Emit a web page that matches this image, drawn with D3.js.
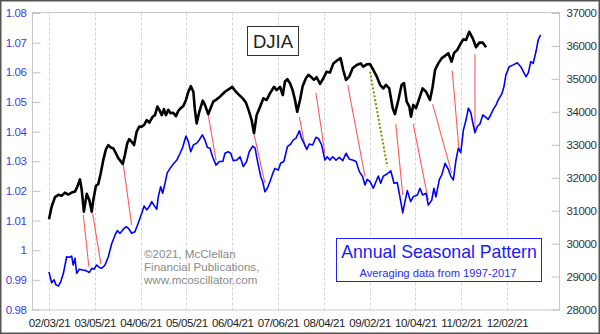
<!DOCTYPE html>
<html><head><meta charset="utf-8">
<script src="https://cdn.jsdelivr.net/npm/d3@7"></script>
<style>body{margin:0;background:#fff}svg{display:block;font-family:"Liberation Sans",Arial,sans-serif}</style>
</head><body><svg id="c" width="600" height="334"></svg>
<script>
// ---------- data ----------
const dateLabels = ["02/03/21","03/05/21","04/06/21","05/05/21","06/04/21","07/06/21","08/04/21","09/02/21","10/04/21","11/02/21","12/02/21"];
const dateTicks = [0,21,42,63,84,105,126,147,168,189,210]; // trading-day index
const leftTicks = [0.98,0.99,1,1.01,1.02,1.03,1.04,1.05,1.06,1.07,1.08];
const leftLabels = ["0.98","0.99","1","1.01","1.02","1.03","1.04","1.05","1.06","1.07","1.08"];
const rightTicks = [28000,29000,30000,31000,32000,33000,34000,35000,36000,37000];

// DJIA 2021 (right axis)
const djiaDays = [
 0,1.2,2.75,4.3,5.8,7.3,8.8,10.4,11.9,13.0,
 14.2,15.0,16.0,17.3,18.5,19.6,20.3,21.5,22.6,23.7,
 24.9,26.1,27.2,28.3,29.5,30.7,31.8,33.8,34.8,35.9,
 36.8,37.9,39.0,40.2,41.4,42.5,43.6,44.8,46.0,47.5,
 48.6,49.7,50.6,51.7,52.7,53.6,54.7,55.8,57.0,58.2,
 59.3,60.4,61.6,62.8,63.9,65.0,66.2,66.9,67.7,68.9,
 70.5,71.5,73.0,74.1,75.3,76.9,78.4,80.7,83.0,84.0,
 85.3,86.8,88.8,90.3,91.8,92.9,94.0,95.2,96.7,98.3,
 99.8,101.3,103.2,104.4,105.9,107.2,108.2,109.3,110.5,111.7,
 112.8,113.8,115.1,116.3,117.8,118.9,120.0,121.5,122.7,124.3,
 125.8,127.3,128.8,130.4,131.9,133.7,134.9,136.2,137.7,139.2,
 141.1,142.9,144.1,145.7,147.2,148.7,150.3,151.8,153.3,154.5,
 156.0,157.6,158.6,160.2,161.7,162.8,164.0,165.2,166.0,167.0,
 168.3,169.8,171.3,172.9,174.7,175.9,177.0,178.5,180.1,181.6,
 183.1,184.6,185.7,187.2,188.8,190.0,191.2,192.7,194.3,195.8,
 197.3,198.9,200.4];
const djiaVals = [
 30740,31120,31410,31480,31450,31550,31490,31550,31580,31730,
 31950,31630,30970,31510,31320,30970,31320,31750,31810,32130,
 32540,32860,32990,32920,32890,32740,32590,32420,32690,33050,
 33170,33090,32990,33400,33550,33550,33600,33750,33670,33850,
 33900,34160,34060,33900,34080,33900,34060,33960,33970,33870,
 34030,34110,34180,34360,34610,34780,34610,34060,33650,34000,
 34340,34210,33930,34110,34310,34380,34460,34610,34710,34760,
 34640,34540,34410,34280,34000,33750,33350,33900,34140,34410,
 34360,34560,34760,34660,34760,34510,34920,34990,34870,34660,
 34360,34000,34360,34780,35020,35120,35070,34970,35050,34850,
 35020,35220,35190,35470,35550,35630,35270,34970,35070,35320,
 35420,35470,35370,35440,35450,35270,35070,34820,34710,34820,
 34710,34110,33930,34360,34820,34870,34310,34160,33850,34210,
 34110,34410,34710,34610,34360,34760,35270,35470,35630,35700,
 35780,35520,35780,35880,36080,36200,36180,36430,36230,35960,
 36100,36100,35960];

// Annual seasonal pattern (left axis)
const seasDays = [
 0,1.2,2.3,3.2,4.3,5.4,6.6,8.1,9.3,10.4,
 11.1,11.9,12.7,13.9,15.5,17.0,18.5,19.6,20.6,21.9,
 23.1,24.2,25.7,27.2,28.7,30.3,31.3,32.6,34.1,35.3,
 36.4,37.9,39.4,40.9,42.5,43.6,44.8,46.0,47.1,48.1,
 49.4,50.1,51.2,52.1,53.2,54.2,55.5,57.0,58.6,60.1,
 61.3,62.8,63.9,65.0,66.2,67.7,68.9,70.3,71.5,72.6,
 73.8,75.0,76.6,78.1,79.7,80.7,82.2,83.3,84.5,86.1,
 87.6,89.1,90.6,91.8,93.4,94.5,95.5,97.1,98.0,99.0,
 100.1,101.3,102.6,103.6,105.1,106.2,107.7,109.3,110.8,112.0,
 113.2,114.8,115.8,116.9,118.2,119.3,120.9,122.4,123.5,125.0,
 126.5,127.6,128.8,130.1,131.6,133.1,134.7,136.2,137.7,139.2,
 140.8,142.3,143.8,144.9,145.9,147.2,148.7,149.9,151.0,152.1,
 153.3,155.0,156.7,158.2,159.7,160.9,162.2,163.2,164.3,165.8,
 167.0,168.9,170.1,171.3,172.9,173.9,175.5,176.5,177.4,179.0,
 180.1,181.6,183.1,184.2,185.4,186.6,187.7,188.8,190.0,191.2,
 192.3,193.4,194.3,195.3,196.4,197.6,198.9,200.4,201.4,202.5,
 203.7,205.0,206.0,207.6,208.6,209.5,211.0,212.9,214.7,216.3,
 217.5,218.7,219.8,220.9,222.0,223.3,224.3,225.4];
const seasVals = [
 0.9927,0.9890,0.9900,0.9883,0.9879,0.9894,0.9922,0.9978,0.9976,0.9980,
 0.9950,0.9973,0.9922,0.9936,0.9933,0.9931,0.9925,0.9939,0.9936,0.9950,
 0.9942,0.9939,0.9950,0.9978,1.0021,1.0051,1.0066,1.0057,1.0071,1.0079,
 1.0074,1.0057,1.0062,1.0091,1.0124,1.0149,1.0136,1.0147,1.0164,1.0152,
 1.0138,1.0180,1.0214,1.0192,1.0226,1.0261,1.0276,1.0291,1.0304,1.0327,
 1.0347,1.0385,1.0366,1.0332,1.0355,1.0361,1.0372,1.0389,1.0372,1.0347,
 1.0344,1.0315,1.0287,1.0299,1.0299,1.0327,1.0332,1.0327,1.0302,1.0304,
 1.0315,1.0282,1.0299,1.0332,1.0351,1.0344,1.0304,1.0248,1.0231,1.0197,
 1.0209,1.0231,1.0259,1.0276,1.0270,1.0293,1.0299,1.0349,1.0358,1.0372,
 1.0377,1.0403,1.0377,1.0361,1.0340,1.0358,1.0355,1.0381,1.0377,1.0355,
 1.0304,1.0315,1.0304,1.0315,1.0304,1.0313,1.0302,1.0327,1.0307,1.0304,
 1.0299,1.0265,1.0248,1.0220,1.0239,1.0231,1.0209,1.0231,1.0250,1.0226,
 1.0250,1.0257,1.0268,1.0226,1.0228,1.0180,1.0126,1.0164,1.0201,1.0164,
 1.0180,1.0186,1.0209,1.0186,1.0192,1.0152,1.0169,1.0209,1.0180,1.0239,
 1.0254,1.0293,1.0273,1.0250,1.0237,1.0304,1.0344,1.0329,1.0405,1.0439,
 1.0479,1.0464,1.0430,1.0396,1.0417,1.0426,1.0456,1.0448,1.0441,1.0456,
 1.0475,1.0490,1.0507,1.0527,1.0551,1.0591,1.0619,1.0625,1.0632,1.0619,
 1.0602,1.0585,1.0599,1.0636,1.0630,1.0670,1.0709,1.0726];

// turning-point connectors (day index, left-axis value)
const linkFromDay = [15.7,20.0,34.1,73.0,94.1,114.8,122.4,137.0,159.0,167.0,175.9,184.9,195.3];
const linkFromVal = [1.0119,1.0124,1.0287,1.0456,1.0389,1.0450,1.0531,1.0557,1.0426,1.0426,1.0493,1.0605,1.0661];
const linkToDay   = [18.3,23.8,37.9,76.6,99.0,117.4,126.5,144.9,162.2,173.9,184.6,188.0,195.3];
const linkToVal   = [0.9944,0.9953,1.0085,1.0304,1.0226,1.0349,1.0327,1.0248,1.0186,1.0169,1.0261,1.0338,1.0400];
const dotLinkFromDay = [147.2], dotLinkFromVal = [1.0602], dotLinkToDay = [155.1], dotLinkToVal = [1.0282];

const copyrightLines = ["\u00a92021, McClellan","Financial Publications,","www.mcoscillator.com"];

// ---------- layout ----------
const W = 600, H = 334;
const P = {left:32, right:559, top:12.5, bottom:310};
const svg = d3.select("#c");

const x = d3.scaleLinear().domain([0,210]).range([49,507]);
const yL = d3.scaleLinear().domain([0.98,1.08]).range([309.5,13]);
const yR = d3.scaleLinear().domain([28000,37000]).range([309.5,13]);

svg.append("rect").attr("x",0).attr("y",0).attr("width",W).attr("height",H).attr("fill","#fff");

// vertical dashed grid
svg.append("g").selectAll("line").data(dateTicks).join("line")
  .attr("x1",d=>Math.round(x(d))+0.5).attr("x2",d=>Math.round(x(d))+0.5)
  .attr("y1",P.top).attr("y2",P.bottom)
  .attr("stroke","#d4d4d4").attr("stroke-dasharray","3,2");

// plot frame
svg.append("rect").attr("x",P.left+0.5).attr("y",P.top).attr("width",P.right-P.left).attr("height",P.bottom-P.top)
  .attr("fill","none").attr("stroke","#c8c8c8");

// left axis
const axL = d3.axisLeft(yL).tickValues(leftTicks).tickSize(-8).tickPadding(6)
  .tickFormat((d,i)=>leftLabels[i]);
const gL = svg.append("g").attr("transform",`translate(${P.left+0.5},0)`).call(axL);
gL.select(".domain").remove();
gL.selectAll("line").attr("stroke","#c0c0c0");
gL.selectAll("text").attr("fill","#3b3bf0").attr("font-size","11.5px").attr("letter-spacing","-0.4px")
  .attr("font-family","Liberation Sans, Arial, sans-serif");

// right axis
const axR = d3.axisRight(yR).tickValues(rightTicks).tickSize(-8).tickPadding(7).tickFormat(d3.format("d"));
const gR = svg.append("g").attr("transform",`translate(${P.right+0.5},0)`).call(axR);
gR.select(".domain").remove();
gR.selectAll("line").attr("stroke","#c0c0c0");
gR.selectAll("text").attr("fill","#333").attr("font-size","11.5px").attr("letter-spacing","-0.4px")
  .attr("font-family","Liberation Sans, Arial, sans-serif");

// bottom axis labels
const axB = d3.axisBottom(x).tickValues(dateTicks).tickSize(0).tickPadding(9).tickFormat((d,i)=>dateLabels[i]);
const gB = svg.append("g").attr("transform",`translate(0,${P.bottom})`).call(axB);
gB.select(".domain").remove();
gB.selectAll("text").attr("fill","#222").attr("font-size","11.5px").attr("letter-spacing","-0.4px")
  .attr("font-family","Liberation Sans, Arial, sans-serif");

// copyright text
svg.append("g").selectAll("text").data(copyrightLines).join("text")
  .attr("x",144).attr("y",(d,i)=>257.5+i*13.2)
  .attr("fill","#8a8a8a").attr("font-size","11.6px").text(d=>d);

// connectors
const links = linkFromDay.map((d,i)=>({x1:d,y1:linkFromVal[i],x2:linkToDay[i],y2:linkToVal[i]}));
svg.append("g").selectAll("line").data(links).join("line")
  .attr("x1",d=>x(d.x1)).attr("y1",d=>yL(d.y1)).attr("x2",d=>x(d.x2)).attr("y2",d=>yL(d.y2))
  .attr("stroke","#ff5a5a").attr("stroke-width",1.1);
const dlinks = dotLinkFromDay.map((d,i)=>({x1:d,y1:dotLinkFromVal[i],x2:dotLinkToDay[i],y2:dotLinkToVal[i]}));
svg.append("g").selectAll("line").data(dlinks).join("line")
  .attr("x1",d=>x(d.x1)).attr("y1",d=>yL(d.y1)).attr("x2",d=>x(d.x2)).attr("y2",d=>yL(d.y2))
  .attr("stroke","#8a8a00").attr("stroke-width",2).attr("stroke-dasharray","2,2");

// seasonal line
const seas = seasDays.map((d,i)=>[d,seasVals[i]]);
svg.append("path").datum(seas)
  .attr("d",d3.line().x(d=>x(d[0])).y(d=>yL(d[1])))
  .attr("fill","none").attr("stroke","#0000ff").attr("stroke-width",1.6).attr("stroke-linejoin","round");

// DJIA line
const djia = djiaDays.map((d,i)=>[d,djiaVals[i]]);
svg.append("path").datum(djia)
  .attr("d",d3.line().x(d=>x(d[0])).y(d=>yR(d[1])))
  .attr("fill","none").attr("stroke","#000").attr("stroke-width",2.6).attr("stroke-linejoin","round");

// DJIA label box
svg.append("rect").attr("x",247.5).attr("y",26.5).attr("width",51).attr("height",29)
  .attr("fill","#fff").attr("stroke","#333");
svg.append("text").attr("x",273).attr("y",48).attr("text-anchor","middle")
  .attr("font-size","18.5px").attr("fill","#222").text("DJIA");

// legend box
svg.append("rect").attr("x",336.5).attr("y",238.5).attr("width",205).attr("height",43)
  .attr("fill","#fff").attr("stroke","#2020ff");
svg.append("text").attr("x",439).attr("y",258).attr("text-anchor","middle")
  .attr("font-size","17.7px").attr("fill","#1a1aff").text("Annual Seasonal Pattern");
svg.append("text").attr("x",438).attr("y",276.5).attr("text-anchor","middle")
  .attr("font-size","11.2px").attr("fill","#2a2aff").text("Averaging data from 1997-2017");

// outer border
svg.append("rect").attr("x",0.75).attr("y",0.75).attr("width",W-1.5).attr("height",H-1.5)
  .attr("fill","none").attr("stroke","#555").attr("stroke-width",1.5);
</script></body></html>
